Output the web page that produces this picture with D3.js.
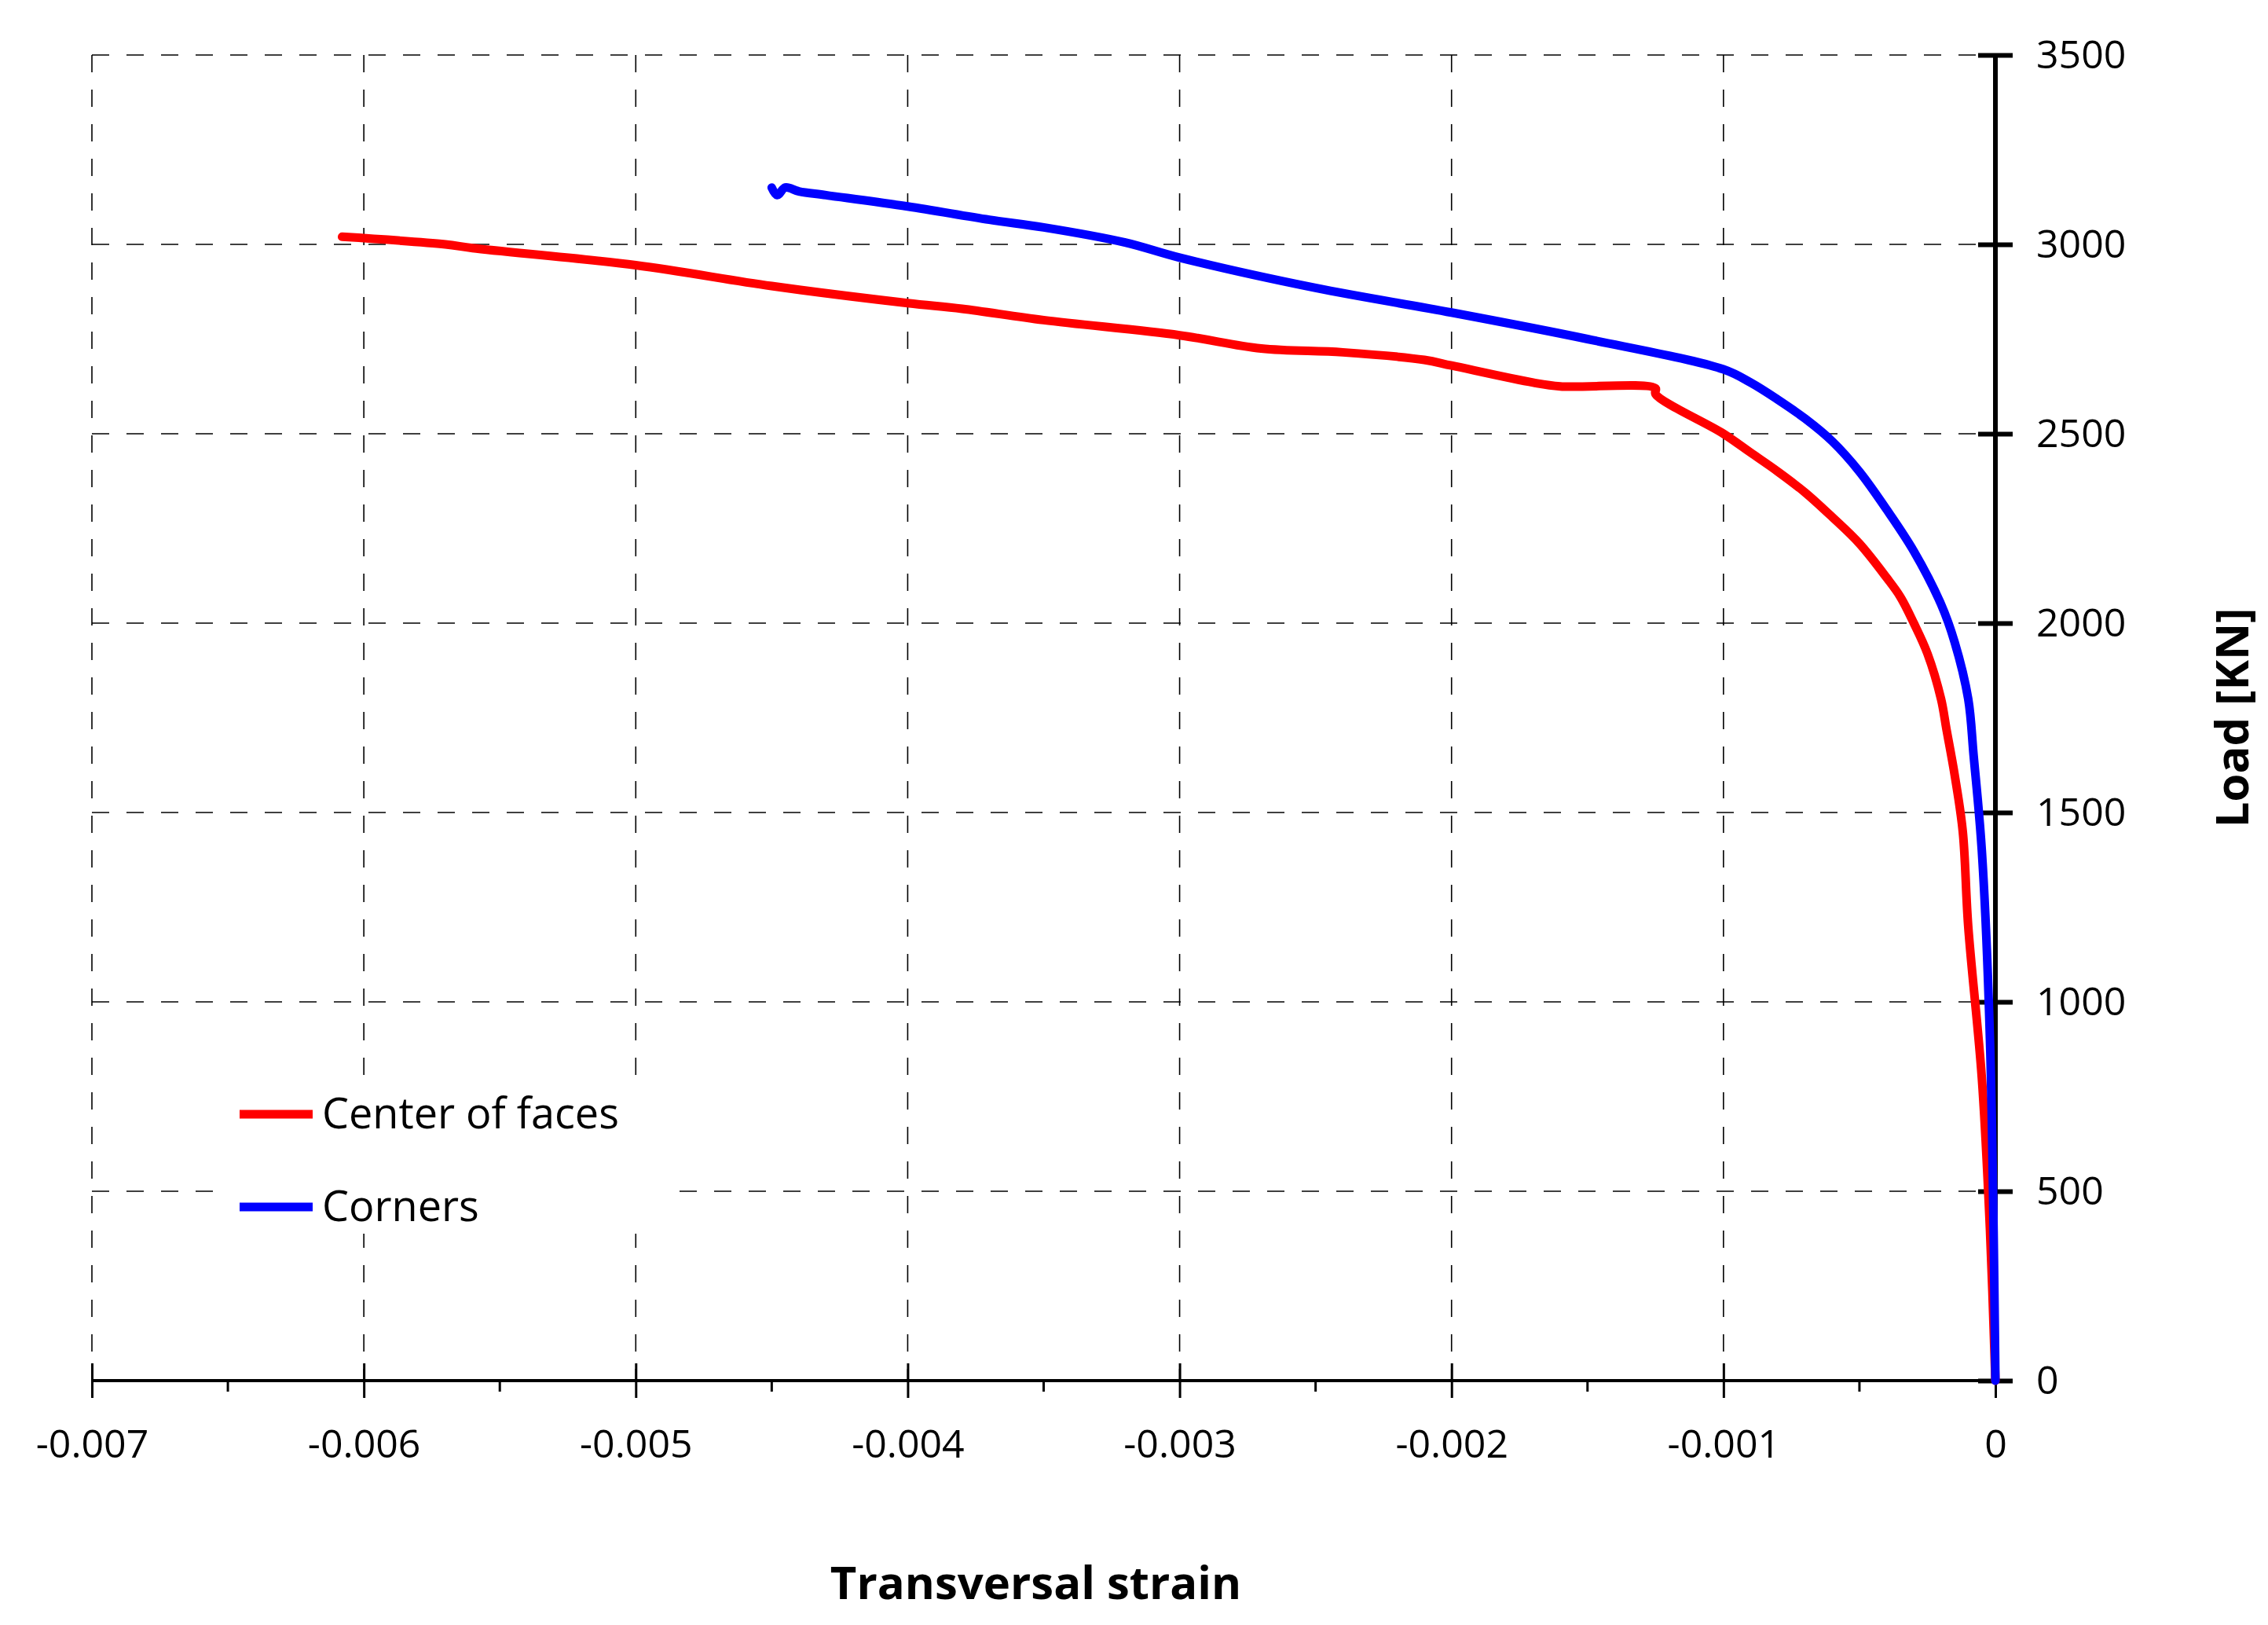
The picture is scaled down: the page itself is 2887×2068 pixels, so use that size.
<!DOCTYPE html>
<html lang="en">
<head>
	<meta charset="utf-8">
	<script src="https://d3js.org/d3.v7.min.js"></script>
	<style>
		body { margin: 0; background: #fff; font-family: "Open Sans", "Noto Sans", sans-serif; }
		.tick text { font-size: 50px; font-family: "Open Sans", "Noto Sans", sans-serif; }
	</style>
</head>
<body>
	<script>
		var width = 2887, height = 2068;
		var margin = { left: 117, right: 347, top: 70, bottom: 311 };

		// Center of faces
		var centerStrain = [-0.00608,-0.0057,-0.0056,-0.005,-0.0045,-0.004,-0.0038,-0.0035,-0.003,-0.0027,-0.0024,-0.0021,-0.002,-0.0017,-0.0016,-0.00125,-0.00125,-0.001,-0.0009,-0.0008,-0.0007,-0.0006,-0.0005,-0.0004,-0.00035,-0.0003,-0.00025,-0.0002,-0.00018,-0.00015,-0.00012,-0.0001,-0.00005,-0.00002,0];
		var centerLoad = [3020,3000,2990,2945,2890,2845,2830,2800,2760,2725,2715,2695,2680,2635,2625,2620,2605,2500,2450,2400,2345,2280,2210,2120,2070,2000,1920,1800,1720,1600,1450,1200,800,400,0];
		// Corners
		var cornerStrain = [-0.0045,-0.00448,-0.00445,-0.0044,-0.0043,-0.004,-0.0037,-0.0035,-0.0032,-0.003,-0.0025,-0.002,-0.0015,-0.001,-0.0009,-0.0008,-0.0007,-0.0006,-0.0005,-0.0004,-0.0003,-0.0002,-0.00015,-0.0001,-0.00008,-0.00005,-0.00002,0];
		var cornerLoad = [3150,3130,3150,3140,3130,3100,3065,3045,3005,2965,2885,2820,2750,2670,2635,2590,2540,2480,2400,2300,2190,2050,1950,1800,1650,1400,900,0];

		var xTicks = [-0.007,-0.006,-0.005,-0.004,-0.003,-0.002,-0.001,0];
		var xMinor = [-0.0065,-0.0055,-0.0045,-0.0035,-0.0025,-0.0015,-0.0005];
		var yTicks = [0,500,1000,1500,2000,2500,3000,3500];

		var svg = d3.select("body").append("svg").attr("width", width).attr("height", height);

		var x = d3.scaleLinear().domain([-0.007, 0]).range([margin.left, width - margin.right]);
		var y = d3.scaleLinear().domain([0, 3500]).range([height - margin.bottom, margin.top]);

		// grid
		var grid = svg.append("g").attr("stroke", "#000").attr("stroke-width", 1.6).attr("stroke-dasharray", "22,22");
		grid.selectAll(".gx").data(xTicks.slice(0, -1)).enter().append("line")
			.attr("x1", d => x(d)).attr("x2", d => x(d)).attr("y1", y(3500)).attr("y2", y(0));
		grid.selectAll(".gy").data(yTicks.slice(1)).enter().append("line")
			.attr("x1", x(-0.007)).attr("x2", x(0)).attr("y1", d => y(d)).attr("y2", d => y(d));

		// x axis
		var xAxis = svg.append("g").attr("transform", "translate(0," + y(0) + ")")
			.call(d3.axisBottom(x).tickValues(xTicks).tickSize(22).tickPadding(40)
				.tickFormat(d => d === 0 ? "0" : "-" + d3.format(".3f")(-d)));
		xAxis.attr("font-family", null).attr("font-size", null);
		xAxis.selectAll(".tick line").attr("y1", -22).attr("stroke-width", 3);
		xAxis.select(".domain").attr("stroke-width", 4).attr("d", "M" + x(-0.007) + ",0H" + x(0));
		xAxis.selectAll(".minor").data(xMinor).enter().append("line").attr("class", "minor")
			.attr("x1", d => x(d)).attr("x2", d => x(d)).attr("y1", 0).attr("y2", 14)
			.attr("stroke", "#000").attr("stroke-width", 3);
		xAxis.selectAll("text").attr("fill", "#000");

		// y axis (right, at x=0)
		var yAxis = svg.append("g").attr("transform", "translate(" + x(0) + ",0)")
			.call(d3.axisRight(y).tickValues(yTicks).tickSize(22).tickPadding(30).tickFormat(d3.format("d")));
		yAxis.attr("font-family", null).attr("font-size", null);
		yAxis.selectAll(".tick line").attr("x1", -22).attr("stroke-width", 6);
		yAxis.select(".domain").attr("stroke-width", 6).attr("d", "M0," + y(3500) + "V" + y(0));
		yAxis.selectAll("text").attr("fill", "#000");

		// legend background
		svg.append("rect").attr("x", 290).attr("y", 1370).attr("width", 570).attr("height", 200).attr("fill", "#fff");

		var line = d3.line().x(d => x(d[0])).y(d => y(d[1])).curve(d3.curveCatmullRom.alpha(0.5));
		var series = [
			{ name: "Center of faces", color: "#ff0000", data: d3.zip(centerStrain, centerLoad) },
			{ name: "Corners", color: "#0000ff", data: d3.zip(cornerStrain, cornerLoad) }
		];
		series.forEach(function (s) {
			svg.append("path").datum(s.data).attr("d", line)
				.attr("fill", "none").attr("stroke", s.color).attr("stroke-width", 11)
				.attr("stroke-linejoin", "round").attr("stroke-linecap", "round");
		});

		series.forEach(function (s, i) {
			var ly = 1418 + i * 118;
			svg.append("line").attr("x1", 305).attr("x2", 398).attr("y1", ly).attr("y2", ly)
				.attr("stroke", s.color).attr("stroke-width", 11);
			svg.append("text").attr("x", 410).attr("y", ly + 18).attr("font-size", 54).text(s.name);
		});

		svg.append("text").attr("x", (x(-0.007) + x(0)) / 2 - 10).attr("y", 2035)
			.attr("text-anchor", "middle").attr("font-size", 58).attr("font-weight", "bold").text("Transversal strain");
		svg.append("text").attr("transform", "translate(2862," + y(1750) + ") rotate(-90)")
			.attr("text-anchor", "middle").attr("font-size", 58).attr("font-weight", "bold").text("Load [KN]");
	</script>
</body>
</html>
